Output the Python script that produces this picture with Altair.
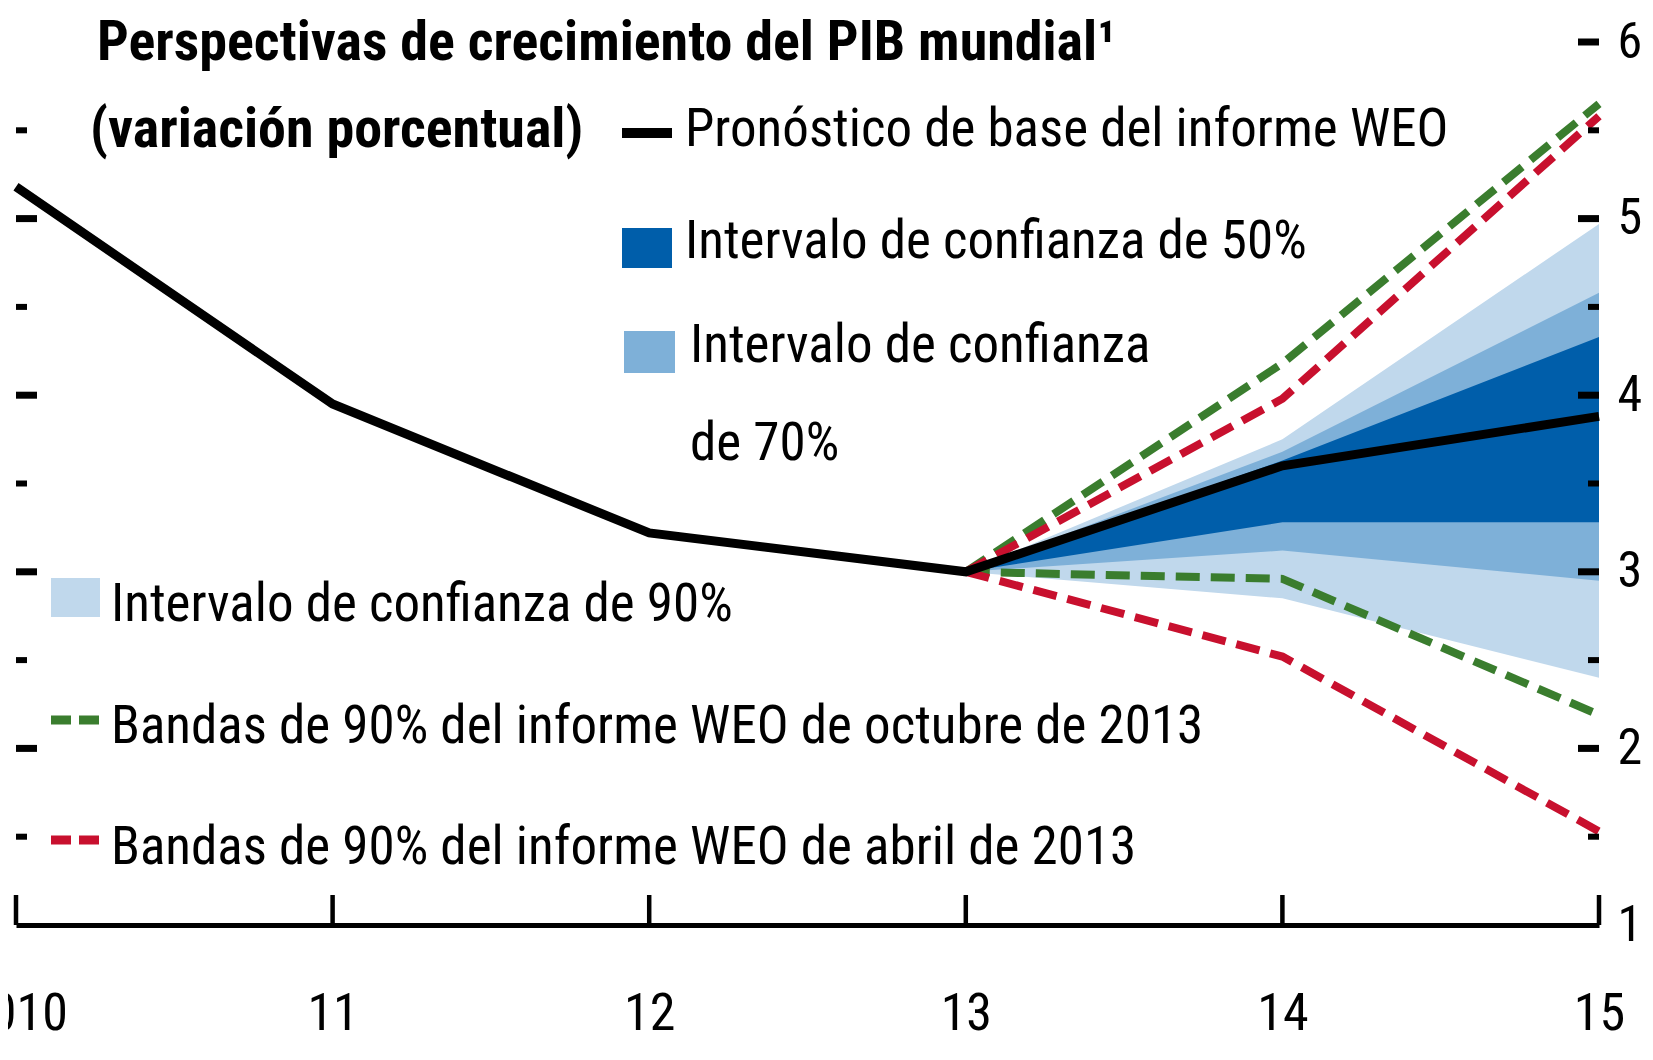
import json
import altair as alt
import pandas as pd

# ---------------- data ----------------
years = [2010, 2011, 2012, 2013, 2014, 2015]
x_labels = ["2010", "11", "12", "13", "14", "15"]
baseline = [5.18, 3.95, 3.22, 3.0, 3.6, 3.88]

fan_years = [2013, 2014, 2015]
ci90_lo = [3.0, 2.85, 2.40]
ci90_hi = [3.0, 3.75, 4.97]
ci70_lo = [3.0, 3.12, 2.95]
ci70_hi = [3.0, 3.68, 4.58]
ci50_lo = [3.0, 3.28, 3.28]
ci50_hi = [3.0, 3.63, 4.33]

oct13_hi = [3.0, 4.18, 5.65]
oct13_lo = [3.0, 2.96, 2.19]
apr13_hi = [3.0, 3.98, 5.58]
apr13_lo = [3.0, 2.52, 1.53]

y_label_values = [1, 2, 3, 4, 5, 6]
right_major = [2, 3, 4, 5, 6]
left_major = [2, 3, 4, 5]
minor_ticks = [1.5, 2.5, 3.5, 4.5, 5.5]

title_1 = "Perspectivas de crecimiento del PIB mundial\u00b9"
title_2 = "(variación porcentual)"
lab_base = "Pronóstico de base del informe WEO"
lab_50 = "Intervalo de confianza de 50%"
lab_70a = "Intervalo de confianza"
lab_70b = "de 70%"
lab_90 = "Intervalo de confianza de 90%"
lab_oct = "Bandas de 90% del informe WEO de octubre de 2013"
lab_apr = "Bandas de 90% del informe WEO de abril de 2013"

# ---------------- style / layout ----------------
FONT = "Liberation Sans Narrow, Roboto Condensed, DejaVu Sans Condensed, Liberation Sans, sans-serif"
DARK = "#005EAA"
MID = "#7EB0D8"
LIGHT = "#C0D8EC"
GREEN = "#3A7D2E"
RED = "#C8102E"

W, H = 1583, 883      # plot area
OX, OY = 16, 42       # page position of plot origin
TXT = 53
TTL = 56
DASH = [24, 11]

xscale = alt.Scale(domain=[2010, 2015], nice=False, zero=False)
yscale = alt.Scale(domain=[1, 6], nice=False, zero=False)

label_expr = json.dumps(x_labels) + "[round(datum.value) - 2010]"
xaxis = alt.Axis(values=years, labelExpr=label_expr, labelFont=FONT, labelFontSize=52,
                 labelColor="black", labelPadding=104, labelBaseline="alphabetic",
                 ticks=False, tickSize=0, domain=True, domainColor="black", domainWidth=5,
                 grid=False, title=None, labelFlush=False, labelOverlap=False)
yaxis = alt.Axis(orient="right", values=y_label_values, format="d", labelFont=FONT,
                 labelFontSize=50, labelColor="black", labelAlign="left",
                 labelBaseline="middle", labelPadding=18, ticks=False, tickSize=0,
                 domain=False, grid=False, title=None, labelFlush=False, labelOverlap=False)


def X(f):
    return alt.X(f, type="quantitative", scale=xscale, axis=xaxis)


def Y(f):
    return alt.Y(f, type="quantitative", scale=yscale, axis=yaxis)


df_base = pd.DataFrame({"year": years, "v": baseline})
df_fan = pd.DataFrame({"year": fan_years,
                       "lo90": ci90_lo, "hi90": ci90_hi,
                       "lo70": ci70_lo, "hi70": ci70_hi,
                       "lo50": ci50_lo, "hi50": ci50_hi,
                       "oct_hi": oct13_hi, "oct_lo": oct13_lo,
                       "apr_hi": apr13_hi, "apr_lo": apr13_lo})

layers = []
for lo, hi, col in [("lo90", "hi90", LIGHT), ("lo70", "hi70", MID), ("lo50", "hi50", DARK)]:
    layers.append(alt.Chart(df_fan).mark_area(color=col, opacity=1, interpolate="linear")
                  .encode(x=X("year"), y=Y(lo), y2=alt.Y2(hi)))

for f, col in [("oct_hi", GREEN), ("oct_lo", GREEN), ("apr_hi", RED), ("apr_lo", RED)]:
    layers.append(alt.Chart(df_fan).mark_line(color=col, strokeWidth=8, strokeDash=DASH,
                                              strokeCap="butt")
                  .encode(x=X("year"), y=Y(f)))

layers.append(alt.Chart(df_base).mark_line(color="black", strokeWidth=9, strokeJoin="miter")
              .encode(x=X("year"), y=Y("v")))

# axis ticks (inward)
df_xt = pd.DataFrame({"year": years})
layers.append(alt.Chart(df_xt).mark_rule(color="black", strokeWidth=4.5)
              .encode(x=X("year"), y=alt.value(H), y2=alt.value(H - 30)))


def ytick(vals, x0, x1, sw):
    return (alt.Chart(pd.DataFrame({"v": vals})).mark_rule(color="black", strokeWidth=sw)
            .encode(y=Y("v"), x=alt.value(x0), x2=alt.value(x1)))


layers.append(ytick(right_major, W, W - 21, 7))
layers.append(ytick(minor_ticks, W, W - 11, 6))
layers.append(ytick(left_major, 0, 21, 7))
layers.append(ytick(minor_ticks, 0, 11, 6))


def one():
    return pd.DataFrame({"k": [0]})


def text(s, x, y, weight="normal", size=TXT):
    return (alt.Chart(pd.DataFrame({"t": [s]}))
            .mark_text(align="left", baseline="alphabetic", font=FONT, fontSize=size,
                       fontWeight=weight, color="black")
            .encode(text="t:N", x=alt.value(x - OX), y=alt.value(y - OY)))


def swatch(x0, x1, y0, y1, col):
    return (alt.Chart(one()).mark_rect(color=col)
            .encode(x=alt.value(x0 - OX), x2=alt.value(x1 - OX),
                    y=alt.value(y0 - OY), y2=alt.value(y1 - OY)))


def line_swatch(x0, x1, y, col, sw, dash=None):
    kw = dict(color=col, strokeWidth=sw)
    if dash:
        kw["strokeDash"] = dash
    return (alt.Chart(one()).mark_rule(**kw)
            .encode(x=alt.value(x0 - OX), x2=alt.value(x1 - OX), y=alt.value(y - OY)))


layers += [
    text(title_1, 97, 60, "bold", TTL),
    text(title_2, 90, 147, "bold", TTL),
    line_swatch(622, 672, 133, "black", 10),
    text(lab_base, 685, 146),
    swatch(622, 672, 228, 268, DARK),
    text(lab_50, 685, 258),
    swatch(624, 675, 331, 373, MID),
    text(lab_70a, 690, 362),
    text(lab_70b, 690, 460),
    swatch(51, 100, 578, 617, LIGHT),
    text(lab_90, 111, 621),
    line_swatch(51, 100, 720, GREEN, 9, [20, 8]),
    text(lab_oct, 111, 743),
    line_swatch(51, 100, 840, RED, 9, [20, 8]),
    text(lab_apr, 111, 864),
]

chart = (alt.layer(*layers)
         .properties(width=W, height=H, autosize="none",
                     padding={"left": OX - 8, "top": OY - 8, "right": 46, "bottom": 120},
                     background="white")
         .configure_view(stroke=None))

chart.save("out.html", embed_options={"renderer": "svg", "actions": False})
